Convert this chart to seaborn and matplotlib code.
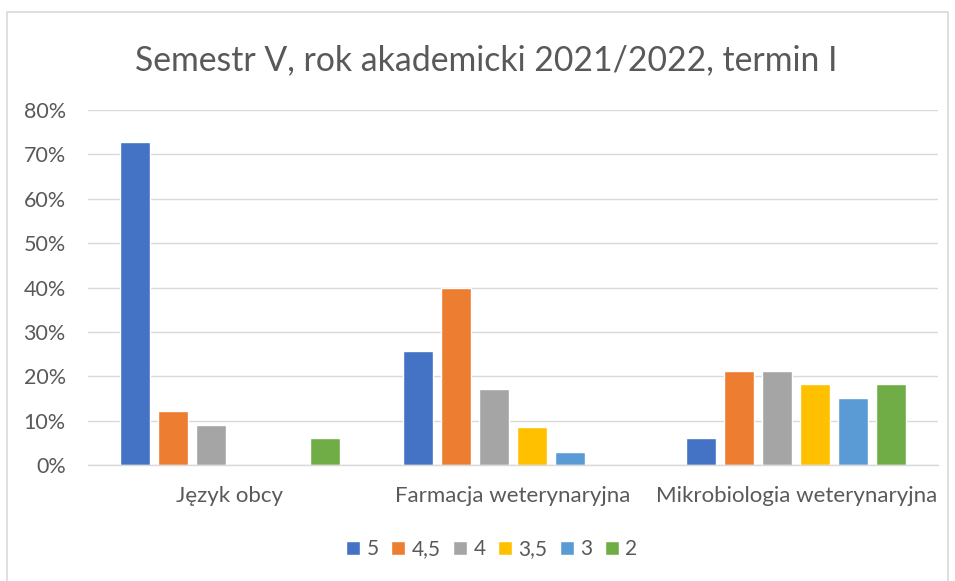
import matplotlib
matplotlib.use("Agg")
import matplotlib.pyplot as plt
import seaborn as sns
import pandas as pd
from matplotlib.patches import Rectangle
from matplotlib.ticker import FuncFormatter

categories = ["Język obcy", "Farmacja weterynaryjna", "Mikrobiologia weterynaryjna"]
grades = ["5", "4,5", "4", "3,5", "3", "2"]
v_5 = [0.727, 0.257, 0.061]
v_45 = [0.121, 0.400, 0.212]
v_4 = [0.091, 0.171, 0.212]
v_35 = [0.0, 0.086, 0.182]
v_3 = [0.0, 0.029, 0.152]
v_2 = [0.061, 0.0, 0.182]
colors = ["#4472C4", "#ED7D31", "#A5A5A5", "#FFC000", "#5B9BD5", "#70AD47"]
title = "Semestr V, rok akademicki 2021/2022, termin I"

series = [v_5, v_45, v_4, v_35, v_3, v_2]
rows = []
for g, vals in zip(grades, series):
    for c, v in zip(categories, vals):
        rows.append({"cat": c, "grade": g, "val": v})
df = pd.DataFrame(rows)

sns.set_theme(style="white")
plt.rcParams["font.family"] = ["Lato", "DejaVu Sans"]
txt = "#595959"

W, H = 955, 581
fig = plt.figure(figsize=(W / 100, H / 100), dpi=100)
ax = fig.add_axes([88 / W, 1 - 465 / H, (938 - 88) / W, (465 - 110) / H])

sns.barplot(data=df, x="cat", y="val", hue="grade", hue_order=grades,
            order=categories, palette=colors, width=0.805, gap=0.21,
            saturation=1, ax=ax, legend=True)

ax.set_ylim(0, 0.8)
ax.set_xlim(-0.5, 2.5)
ax.set_yticks([i / 10 for i in range(9)])
ax.yaxis.set_major_formatter(FuncFormatter(lambda v, p: f"{v*100:.0f}%"))
ax.grid(axis="y", color="#D9D9D9", linewidth=1)
ax.set_axisbelow(True)
for s in ["top", "right", "left"]:
    ax.spines[s].set_visible(False)
ax.spines["bottom"].set_color("#D9D9D9")
ax.spines["bottom"].set_linewidth(1)
ax.set_xlabel("")
ax.set_ylabel("")
ax.tick_params(axis="y", length=0, pad=16, labelsize=15.5, labelcolor=txt)
ax.tick_params(axis="x", length=0, pad=15, labelsize=16, labelcolor=txt)

handles, labels = ax.get_legend_handles_labels()
ax.get_legend().remove()
fig.legend(handles, labels, loc="center", bbox_to_anchor=(0.515, 1 - 549 / H),
           ncol=6, frameon=False, fontsize=15, labelcolor=txt,
           handlelength=0.68, handleheight=0.68, handletextpad=0.3,
           columnspacing=0.6)

fig.text(0.509, 1 - 60 / H, title, ha="center", va="center", fontsize=24.3, color=txt)

fig.patches.append(Rectangle((7 / W, -0.01), (948 - 7) / W, 1 - 12 / H + 0.01,
                             transform=fig.transFigure, fill=False,
                             edgecolor="#D9D9D9", linewidth=1.2))

fig.savefig("out.png", dpi=100)
